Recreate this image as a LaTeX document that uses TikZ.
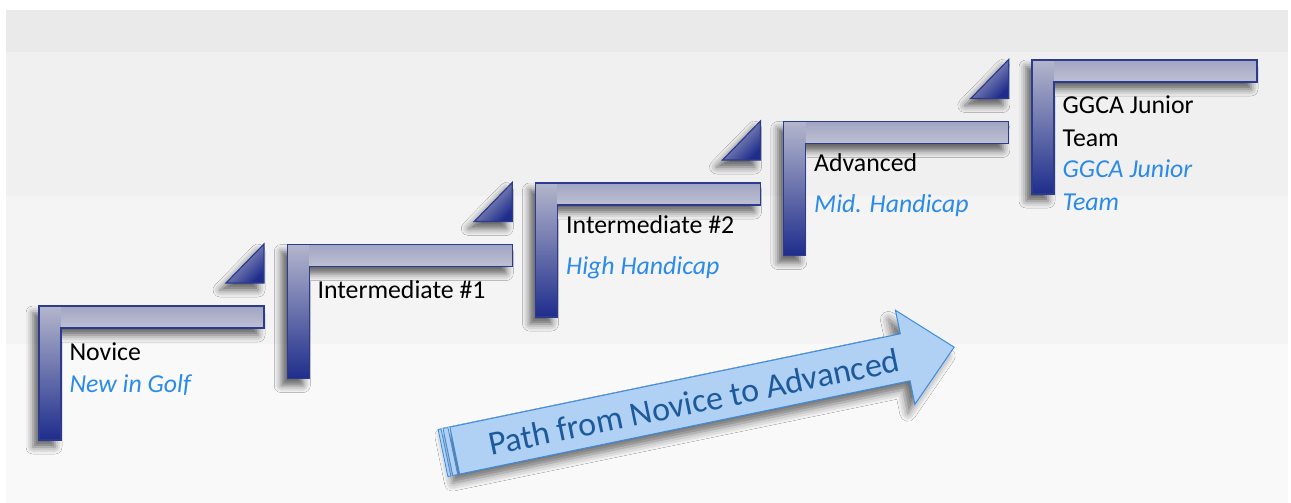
\documentclass[tikz,border=0pt]{standalone}
\usepackage{fontspec}
\setmainfont{Carlito}
\usepackage{tikz}
\usetikzlibrary{shadows.blur}
\definecolor{bandA}{HTML}{EAEAEA}
\definecolor{bandB}{HTML}{F0F0F0}
\definecolor{bandC}{HTML}{F4F4F4}
\definecolor{bandD}{HTML}{F9F9F9}
\definecolor{stepdark}{HTML}{1E2D8C}
\definecolor{steplight}{HTML}{B4B6CC}
\definecolor{barlight}{HTML}{A2A5C2}
\definecolor{barpale}{HTML}{BEC0D3}
\definecolor{stepedge}{HTML}{2C3B8D}
\definecolor{subblue}{HTML}{2B8BE8}
\definecolor{arrowfill}{HTML}{B0D0F4}
\definecolor{arrowedge}{HTML}{3A8DE2}
\definecolor{arrowtext}{HTML}{1D5A9C}

\begin{document}
\begin{tikzpicture}[x=1pt, y=-1pt,
    title/.style={anchor=base west, inner sep=0pt, font=\fontsize{25.8}{30}\selectfont},
    subtitle/.style={title, text=subblue, font=\fontsize{25.8}{30}\selectfont\itshape},
    stepshadow/.style={blur shadow={shadow xshift=-6pt, shadow yshift=-7pt, shadow blur radius=7pt, shadow opacity=60}}]
    \useasboundingbox (0,0) rectangle (1291,503);

    % Fondo en franjas
    \fill[white] (0,0) rectangle (1291,503);
    \fill[bandA] (6,10) rectangle (1288,52);
    \fill[bandB] (6,52) rectangle (1288,196);
    \fill[bandC] (6,196) rectangle (1288,344);
    \fill[bandD] (6,344) rectangle (1288,503);

    % Escalones en forma de L
    \foreach \i in {0,...,4}{
        \pgfmathsetmacro{\xa}{39+248.25*\i}
        \pgfmathsetmacro{\ya}{306-61.5*\i}
        \path[stepshadow, fill=stepedge] (\xa,\ya) -- ++(225,0) -- ++(0,22) -- ++(-203,0) -- ++(0,112) -- ++(-22,0) -- cycle;
        \shade[top color=steplight, bottom color=stepdark] (\xa,\ya) rectangle ++(22,134);
        \shade[top color=barlight, bottom color=barpale] (\xa+22,\ya) rectangle ++(203,22);
        \draw[stepedge, line width=1.2pt, line join=miter] (\xa,\ya) -- ++(225,0) -- ++(0,22) -- ++(-203,0) -- ++(0,112) -- ++(-22,0) -- cycle;
    }

    % Triangulos entre escalones
    \foreach \i in {0,...,3}{
        \pgfmathsetmacro{\xa}{39+248.25*\i}
        \pgfmathsetmacro{\ya}{306-61.5*\i}
        \path[stepshadow, top color=steplight, bottom color=stepdark, shading angle=45] (\xa+187,\ya-23) -- (\xa+225,\ya-62) -- (\xa+225,\ya-23) -- cycle;
        \draw[stepedge, line width=1.2pt] (\xa+187,\ya-23) -- (\xa+225,\ya-62) -- (\xa+225,\ya-23) -- cycle;
    }

    % Textos de cada nivel
    \node[title] (novice) at (69.3,360) {Novice};
    \node[subtitle] (novicesub) at (69.3,392.3) {New in Golf};
    \node[title] (interA) at (317.3,298.3) {Intermediate \#1};
    \node[title] (interB) at (566,233.3) {Intermediate \#2};
    \node[subtitle] (interBsub) at (566,274.3) {High Handicap};
    \node[title] (advanced) at (814,171.7) {Advanced};
    \node[subtitle] (advancedsub) at (814,212.7) {Mid. Handicap};
    \node[title] (juniorA) at (1062.5,113.3) {GGCA Junior};
    \node[title] (juniorB) at (1062.5,146) {Team};
    \node[subtitle] (juniorsubA) at (1062.5,177.3) {GGCA Junior};
    \node[subtitle] (juniorsubB) at (1062.5,210) {Team};

    % Flecha de progreso
    \begin{scope}[shift={(443,453)}, rotate=11.7]
        \path[blur shadow={shadow xshift=-7pt, shadow yshift=-9pt, shadow blur radius=8pt, shadow opacity=55}, fill=arrowfill, draw=arrowedge, line width=1pt]
            (12,-24) -- (472,-24) -- (472,-48) -- (522,0) -- (472,48) -- (472,24) -- (12,24) -- cycle;
        \draw[arrowedge, fill=arrowfill, line width=0.8pt] (0,-24) rectangle (3,24);
        \draw[arrowedge, fill=arrowfill, line width=0.8pt] (5,-24) rectangle (10,24);
        \node[text=arrowtext, font=\fontsize{34}{36}\selectfont, rotate=11.7] (pathlabel) at (256,1) {Path from Novice to Advanced};
    \end{scope}
\end{tikzpicture}
\end{document}
